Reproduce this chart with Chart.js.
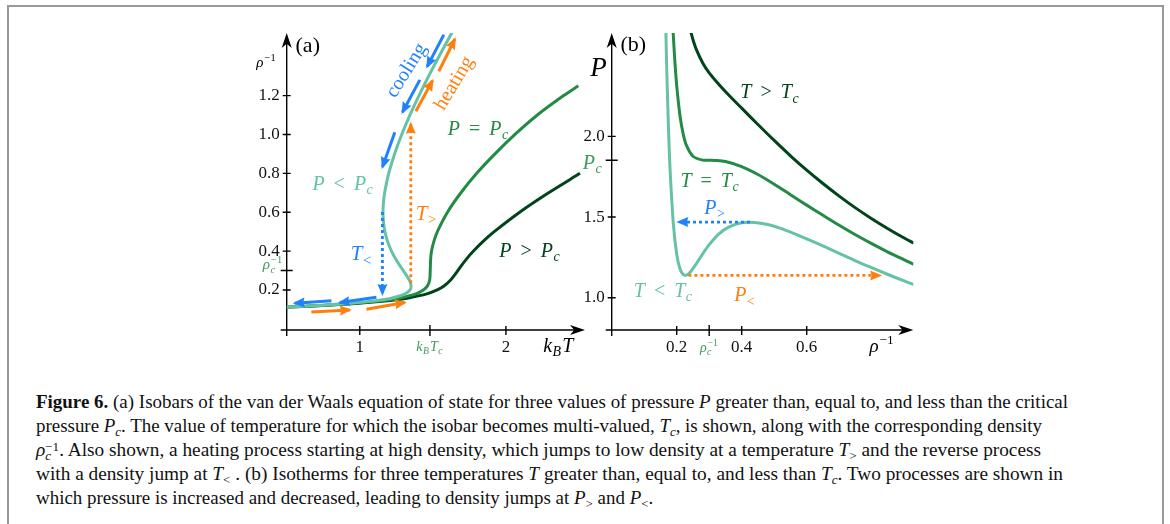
<!DOCTYPE html>
<html>
<head>
<meta charset="utf-8">
<script src="https://cdn.jsdelivr.net/npm/chart.js@4.4.1/dist/chart.umd.min.js"></script>
<style>
  html, body { margin: 0; padding: 0; background: #fff; }
  body { width: 1170px; height: 524px; position: relative; overflow: hidden; font-family: "Liberation Serif", "DejaVu Serif", serif; }
  #frame { position: absolute; left: 7px; top: 5px; width: 1153px; height: 600px; border: 2px solid #999; border-bottom: none; }
  canvas { position: absolute; }
  #chartA { left: 230px; top: 10px; }
  #chartB { left: 570px; top: 10px; }
  #caption { position: absolute; left: 36px; top: 390px; font-size: 18px; line-height: 24px; color: #111; }
  .ln { white-space: nowrap; width: max-content; transform-origin: 0 50%; }
  sub, sup { font-size: 0.68em; line-height: 0; position: relative; vertical-align: baseline; }
  sub { top: 0.3em; }
  sup { top: -0.45em; }
</style>
</head>
<body>
<div id="frame"></div>
<canvas id="chartA" width="370" height="355"></canvas>
<canvas id="chartB" width="370" height="355"></canvas>
<div id="caption">
  <div class="ln" data-w="1032"><b>Figure 6.</b> (a) Isobars of the van der Waals equation of state for three values of pressure <i>P</i> greater than, equal to, and less than the critical</div>
  <div class="ln" data-w="1006">pressure <i>P</i><sub><i>c</i></sub>. The value of temperature for which the isobar becomes multi-valued, <i>T</i><sub><i>c</i></sub>, is shown, along with the corresponding density</div>
  <div class="ln" data-w="1005"><i>ρ</i><sub><i>c</i></sub><sup style="margin-left:-0.45em">−1</sup>. Also shown, a heating process starting at high density, which jumps to low density at a temperature <i>T</i><sub>&gt;</sub> and the reverse process</div>
  <div class="ln" data-w="1027">with a density jump at <i>T</i><sub>&lt;</sub> . (b) Isotherms for three temperatures <i>T</i> greater than, equal to, and less than <i>T</i><sub><i>c</i></sub>. Two processes are shown in</div>
  <div class="ln">which pressure is increased and decreased, leading to density jumps at <i>P</i><sub>&gt;</sub> and <i>P</i><sub>&lt;</sub>.</div>
</div>
<script>
// ---- data: panel (a) isobars, k_B T against rho^-1 ----
const isoLowV  = [0.112, 0.115, 0.12, 0.13, 0.14, 0.15, 0.16, 0.18, 0.2, 0.22, 0.25, 0.28, 0.32, 0.36, 0.4, 0.45, 0.5, 0.55, 0.6, 0.65, 0.7, 0.8, 0.9, 1.0, 1.1, 1.2, 1.3, 1.4, 1.5, 1.55];
const isoLowT  = [0.489, 0.581, 0.713, 0.916, 1.058, 1.158, 1.228, 1.309, 1.343, 1.351, 1.340, 1.315, 1.279, 1.245, 1.217, 1.190, 1.172, 1.162, 1.159, 1.162, 1.170, 1.198, 1.238, 1.287, 1.343, 1.405, 1.471, 1.541, 1.613, 1.650];
const isoCritV = [0.112, 0.115, 0.12, 0.13, 0.14, 0.15, 0.16, 0.18, 0.2, 0.22, 0.25, 0.3, 0.36, 0.4, 0.45, 0.5, 0.6, 0.7, 0.8, 0.9, 1.0, 1.1, 1.2, 1.25];
const isoCritT = [0.501, 0.595, 0.732, 0.943, 1.095, 1.204, 1.283, 1.383, 1.435, 1.462, 1.478, 1.482, 1.485, 1.491, 1.507, 1.531, 1.600, 1.692, 1.800, 1.925, 2.062, 2.215, 2.395, 2.495];
const isoHighV = [0.112, 0.115, 0.12, 0.13, 0.14, 0.15, 0.16, 0.18, 0.2, 0.22, 0.25, 0.28, 0.32, 0.36, 0.4, 0.45, 0.5, 0.6, 0.7, 0.8];
const isoHighT = [0.512, 0.609, 0.750, 0.972, 1.132, 1.251, 1.340, 1.459, 1.530, 1.576, 1.620, 1.652, 1.690, 1.731, 1.778, 1.844, 1.920, 2.094, 2.292, 2.507];

// process arrows in (a): [start, end] as [kT, rho^-1]
const coolArrows = [
  [[1.575, 1.513], [1.461, 1.349]],
  [[1.411, 1.281], [1.292, 1.114]],
  [[1.240, 1.012], [1.155, 0.832]],
  [[1.114, 0.163], [0.863, 0.135]],
  [[0.806, 0.145], [0.555, 0.132]],
];
const heatArrows = [
  [[0.669, 0.086], [0.932, 0.097]],
  [[1.046, 0.101], [1.308, 0.135]],
  [[1.384, 1.119], [1.498, 1.277]],
  [[1.541, 1.325], [1.651, 1.491]],
];
const jumpCool = [[1.155, 0.601], [1.155, 0.179]];
const jumpHeat = [[1.349, 0.234], [1.349, 1.055]];

// ---- data: panel (b) isotherms, P against rho^-1 ----
const thLowV  = [0.165, 0.167, 0.17, 0.175, 0.18, 0.19, 0.2, 0.21, 0.22, 0.23, 0.24, 0.26, 0.28, 0.3, 0.33, 0.36, 0.4, 0.44, 0.48, 0.52, 0.56, 0.6, 0.65, 0.7, 0.75, 0.8, 0.85, 0.9, 0.93];
const thLowP  = [2.820, 2.624, 2.370, 2.033, 1.780, 1.450, 1.270, 1.180, 1.144, 1.140, 1.155, 1.210, 1.272, 1.329, 1.396, 1.438, 1.465, 1.467, 1.454, 1.430, 1.399, 1.365, 1.321, 1.275, 1.229, 1.186, 1.144, 1.104, 1.081];
const thCritV = [0.188, 0.19, 0.195, 0.2, 0.21, 0.22, 0.23, 0.25, 0.28, 0.3, 0.32, 0.35, 0.4, 0.45, 0.5, 0.55, 0.6, 0.65, 0.7, 0.75, 0.8, 0.85, 0.9, 0.93];
const thCritP = [2.688, 2.611, 2.446, 2.315, 2.130, 2.015, 1.944, 1.877, 1.853, 1.852, 1.851, 1.844, 1.813, 1.764, 1.704, 1.639, 1.574, 1.511, 1.449, 1.390, 1.335, 1.283, 1.235, 1.207];
const thHighV = [0.243, 0.25, 0.26, 0.28, 0.3, 0.33, 0.36, 0.4, 0.45, 0.5, 0.55, 0.6, 0.65, 0.7, 0.75, 0.8, 0.85, 0.9, 0.93];
const thHighP = [2.651, 2.600, 2.541, 2.455, 2.394, 2.322, 2.257, 2.175, 2.074, 1.975, 1.880, 1.791, 1.708, 1.630, 1.557, 1.490, 1.428, 1.370, 1.338];

const jumpUp   = [[0.4255, 1.469], [0.205, 1.469]];
const jumpDown = [[0.236, 1.138], [0.826, 1.138]];

// ticks and critical values
const ticksAT = [1, 2];
const ticksAV = [0.2, 0.4, 0.6, 0.8, 1.0, 1.2];
const ticksBV = [0.2, 0.4, 0.6];
const ticksBP = [1.0, 1.5, 2.0];
const kTc = 1.48;
const vc = 0.3;
const Pc = 1.852;

const FAM = '"Liberation Serif", "DejaVu Serif", serif';
const COL = {
  light: '#66c2a4',
  mid: '#238b45',
  dark: '#00441b',
  tick: '#3f9a5c',
  blue: '#1e82ff',
  orange: '#ff7f0e',
};

// small math-text helpers
const I = (t) => ({ t, it: true });
const R = (t) => ({ t, it: false });
const G = (em) => ({ gap: em });
const SS = (sub, sup, subIt = true) => ({ sub, sup, subIt });

function drawMath(ctx, parts, x, y, size, color, rotDeg = 0, align = "center") {
  const font = (s, it) => `${it ? "italic " : ""}${s}px ${FAM}`;
  const items = [];
  let w = 0;
  parts.forEach((p) => {
    if (p.gap !== undefined) {
      w += p.gap * size;
    } else if (p.t !== undefined) {
      const f = font(size, p.it);
      ctx.font = f;
      items.push({ t: p.t, f, dx: w, dy: 0 });
      w += ctx.measureText(p.t).width;
    } else {
      let mw = 0;
      if (p.sub) {
        const f = font(size * 0.7, p.subIt);
        ctx.font = f;
        items.push({ t: p.sub, f, dx: w + 0.5, dy: size * 0.22 });
        mw = Math.max(mw, ctx.measureText(p.sub).width);
      }
      if (p.sup) {
        const f = font(size * 0.7, false);
        ctx.font = f;
        items.push({ t: p.sup, f, dx: w + 1, dy: -size * 0.42 });
        mw = Math.max(mw, ctx.measureText(p.sup).width);
      }
      w += mw + 1.5;
    }
  });
  ctx.save();
  ctx.translate(x, y);
  ctx.rotate((rotDeg * Math.PI) / 180);
  const x0 = align === "center" ? -w / 2 : align === "right" ? -w : 0;
  ctx.fillStyle = color;
  ctx.textBaseline = "alphabetic";
  items.forEach((it) => {
    ctx.font = it.f;
    ctx.fillText(it.t, x0 + it.dx, size * 0.33 + it.dy);
  });
  ctx.restore();
}

function arrowHead(ctx, x, y, ang, L, W, notch, color) {
  ctx.save();
  ctx.translate(x, y);
  ctx.rotate(ang);
  ctx.beginPath();
  ctx.moveTo(0, 0);
  ctx.lineTo(-L, W / 2);
  ctx.lineTo(-L * notch, 0);
  ctx.lineTo(-L, -W / 2);
  ctx.closePath();
  ctx.fillStyle = color;
  ctx.fill();
  ctx.restore();
}

// annotations, placed in data coordinates
const extras = {
  chartA: {
    specX: { value: kTc, parts: [I("k"), SS("B"), I("T"), SS("c")], size: 14, dx: 0, dy: 16 },
    specY: { value: vc, parts: [I("ρ"), SS("c", "−1")], size: 15, dx: -14, dy: -6 },
    labels: [
      { x: 0.644, y: 1.461, parts: [R("(a)")], size: 22, color: "#000" },
      { x: 0.36, y: 1.37, parts: [I("ρ"), SS(null, "−1")], size: 15, color: "#000" },
      { x: 1.313, y: 1.333, parts: [R("cooling")], size: 20, color: COL.blue, rot: -58 },
      { x: 1.639, y: 1.267, parts: [R("heating")], size: 20, color: COL.orange, rot: -59 },
      { x: 1.812, y: 1.032, parts: [I("P"), G(0.45), R("="), G(0.45), I("P"), SS("c")], size: 20, color: COL.mid },
      { x: 0.886, y: 0.749, parts: [I("P"), G(0.45), R("<"), G(0.45), I("P"), SS("c")], size: 20, color: COL.light },
      { x: 1.457, y: 0.598, parts: [I("T"), SS(">", null, false)], size: 21, color: COL.orange },
      { x: 1.012, y: 0.389, parts: [I("T"), SS("<", null, false)], size: 21, color: COL.blue },
      { x: 2.164, y: 0.406, parts: [I("P"), G(0.45), R(">"), G(0.45), I("P"), SS("c")], size: 20, color: COL.dark },
      { x: 2.358, y: -0.083, parts: [I("k"), SS("B"), I("T")], size: 20, color: "#000" },
    ],
  },
  chartB: {
    specX: { value: vc, parts: [I("ρ"), SS("c", "−1")], size: 14, dx: 0, dy: 17 },
    specY: { value: Pc, parts: [I("P"), SS("c")], size: 20, dx: -19, dy: 2 },
    labels: [
      { x: 0.0665, y: 2.577, parts: [R("(b)")], size: 22, color: "#000" },
      { x: -0.041, y: 2.432, parts: [I("P")], size: 27, color: "#000" },
      { x: 0.487, y: 2.276, parts: [I("T"), G(0.45), R(">"), G(0.45), I("T"), SS("c")], size: 20, color: COL.dark },
      { x: 0.3025, y: 1.728, parts: [I("T"), G(0.45), R("="), G(0.45), I("T"), SS("c")], size: 20, color: COL.mid },
      { x: 0.318, y: 1.562, parts: [I("P"), SS(">", null, false)], size: 20, color: COL.blue },
      { x: 0.159, y: 1.045, parts: [I("T"), G(0.45), R("<"), G(0.45), I("T"), SS("c")], size: 20, color: COL.light },
      { x: 0.41, y: 1.02, parts: [I("P"), SS("<", null, false)], size: 20, color: COL.orange },
      { x: 0.831, y: 0.703, parts: [I("ρ"), SS(null, "−1")], size: 19, color: "#000" },
    ],
  },
};

const figPlugin = {
  id: "figPlugin",
  beforeDatasetsDraw(chart) {
    const ex = extras[chart.canvas.id];
    const { ctx, chartArea: a } = chart;
    const x = chart.scales.x;
    const y = chart.scales.y;
    ctx.save();
    ctx.strokeStyle = "#000";
    ctx.lineWidth = 1.4;
    ctx.beginPath();
    ctx.moveTo(a.left - 6, a.bottom);
    ctx.lineTo(a.right - 6, a.bottom);
    ctx.moveTo(a.left, a.bottom + 6);
    ctx.lineTo(a.left, a.top + 6);
    x.ticks.forEach((t) => {
      const p = x.getPixelForValue(t.value);
      ctx.moveTo(p, a.bottom - 4);
      ctx.lineTo(p, a.bottom + 5);
    });
    y.ticks.forEach((t) => {
      const p = y.getPixelForValue(t.value);
      ctx.moveTo(a.left - 4, p);
      ctx.lineTo(a.left + 4, p);
    });
    const sx = x.getPixelForValue(ex.specX.value);
    const sy = y.getPixelForValue(ex.specY.value);
    ctx.moveTo(sx, a.bottom - 5);
    ctx.lineTo(sx, a.bottom + 6);
    ctx.moveTo(a.left - 6, sy);
    ctx.lineTo(a.left + 6, sy);
    ctx.stroke();
    arrowHead(ctx, a.right, a.bottom, 0, 15, 10, 0.72, "#000");
    arrowHead(ctx, a.left, a.top, -Math.PI / 2, 15, 10, 0.72, "#000");
    drawMath(ctx, ex.specX.parts, sx + ex.specX.dx, a.bottom + ex.specX.dy, ex.specX.size, COL.tick);
    drawMath(ctx, ex.specY.parts, a.left + ex.specY.dx, sy + ex.specY.dy, ex.specY.size, COL.tick);
    ctx.restore();
  },
  afterDatasetsDraw(chart) {
    const ex = extras[chart.canvas.id];
    const { ctx } = chart;
    chart.data.datasets.forEach((ds, i) => {
      if (!ds.arrow) return;
      const pts = chart.getDatasetMeta(i).data;
      const p1 = pts[pts.length - 2];
      const p2 = pts[pts.length - 1];
      const ang = Math.atan2(p2.y - p1.y, p2.x - p1.x);
      arrowHead(ctx, p2.x + 2 * Math.cos(ang), p2.y + 2 * Math.sin(ang), ang, 12, 10, 0.88, ds.borderColor);
    });
    ex.labels.forEach((l) => {
      const px = chart.scales.x.getPixelForValue(l.x);
      const py = chart.scales.y.getPixelForValue(l.y);
      drawMath(ctx, l.parts, px, py, l.size, l.color, l.rot || 0);
    });
  },
};

const pairs = (xs, ys) => xs.map((x, i) => ({ x, y: ys[i] }));

function curve(xs, ys, color) {
  return {
    data: pairs(xs, ys),
    borderColor: color,
    borderWidth: 3,
    showLine: true,
    pointRadius: 0,
    tension: 0.3,
  };
}

function arrow(seg, color, dotted) {
  return {
    data: seg.map(([x, y]) => ({ x, y })),
    borderColor: color,
    borderWidth: dotted ? 2.8 : 3,
    borderDash: dotted ? [3, 3] : [],
    showLine: true,
    pointRadius: 0,
    tension: 0,
    arrow: true,
  };
}

function axisOptions(min, max, ticks, fmt, fit) {
  return {
    type: "linear",
    min,
    max,
    afterBuildTicks: (s) => {
      s.ticks = ticks.map((v) => ({ value: v }));
    },
    afterFit: fit,
    grid: { display: false, drawTicks: true, tickLength: 4 },
    border: { display: false },
    ticks: {
      autoSkip: false,
      maxRotation: 0,
      padding: 3,
      color: "#111",
      font: { family: FAM, size: 17 },
      callback: fmt,
    },
  };
}

function baseOptions(padding, xAxis, yAxis) {
  return {
    responsive: false,
    animation: false,
    devicePixelRatio: 1,
    layout: { padding },
    plugins: { legend: { display: false }, tooltip: { enabled: false } },
    scales: { x: xAxis, y: yAxis },
  };
}

const chartA = new Chart(document.getElementById("chartA"), {
  type: "scatter",
  data: {
    datasets: [
      ...coolArrows.map((s) => arrow(s, COL.blue, false)),
      ...heatArrows.map((s) => arrow(s, COL.orange, false)),
      arrow(jumpCool, COL.blue, true),
      arrow(jumpHeat, COL.orange, true),
      curve(isoLowT, isoLowV, COL.light),
      curve(isoCritT, isoCritV, COL.mid),
      curve(isoHighT, isoHighV, COL.dark),
    ],
  },
  options: baseOptions(
    { left: 6.7, top: 23, right: 15, bottom: 5 },
    axisOptions(0.5, 2.541, ticksAT, (v) => String(v), (s) => { s.height = 30; }),
    axisOptions(-0.006, 1.522, ticksAV, (v) => v.toFixed(1), (s) => { s.width = 50; })
  ),
  plugins: [figPlugin],
});

const chartB = new Chart(document.getElementById("chartB"), {
  type: "scatter",
  data: {
    datasets: [
      arrow(jumpUp, COL.blue, true),
      arrow(jumpDown, COL.orange, true),
      curve(thLowV, thLowP, COL.light),
      curve(thCritV, thCritP, COL.mid),
      curve(thHighV, thHighP, COL.dark),
    ],
  },
  options: baseOptions(
    { left: 6.7, top: 23, right: 26.7, bottom: 5 },
    axisOptions(0, 0.928, ticksBV, (v) => v.toFixed(1), (s) => { s.height = 30; }),
    axisOptions(0.8, 2.641, ticksBP, (v) => v.toFixed(1), (s) => { s.width = 35; })
  ),
  plugins: [figPlugin],
});

// squeeze caption lines to the measured widths of the original
const lines = document.querySelectorAll(".ln");
let scale = 1;
lines.forEach((el, i) => {
  const nat = el.getBoundingClientRect().width;
  const target = Number(el.dataset.w);
  if (target) {
    if (i === 0) scale = target / nat;
    el.style.transform = `scaleX(${target / nat})`;
  } else {
    el.style.transform = `scaleX(${scale})`;
  }
});
</script>
</body>
</html>
